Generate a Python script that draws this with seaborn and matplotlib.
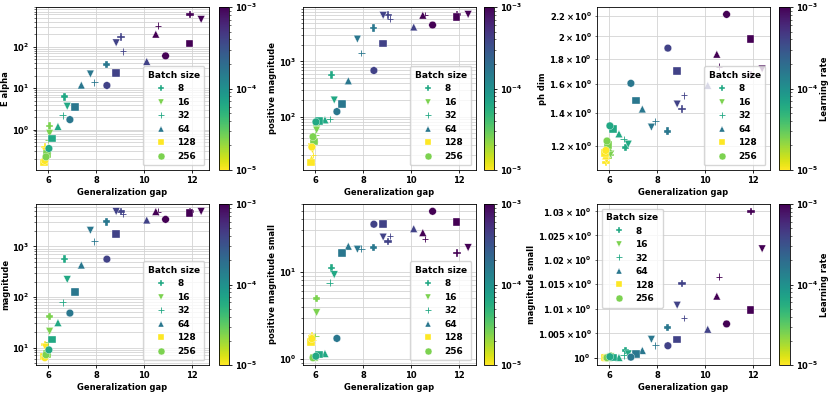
import matplotlib
matplotlib.use("Agg")
import matplotlib.pyplot as plt
from matplotlib.colors import LogNorm
from matplotlib.lines import Line2D
import pandas as pd
import seaborn as sns

batch_sizes = [8, 16, 32, 64, 128, 256]
learning_rates = [1e-5, 2.5e-5, 6.3e-5, 1.6e-4, 4e-4, 1e-3]
batch_markers = ["P", "v", "+", "^", "s", "o"]
# colour of the legend marker for each batch size (as a learning rate)
legend_lr = [6.3e-5, 2.5e-5, 6.3e-5, 1.6e-4, 1e-5, 2.5e-5]

# rows = batch size, columns = learning rate
gen_gap = [
    [5.86, 6.04, 6.68, 8.43, 9.04, 11.93],
    [5.88, 6.05, 6.79, 7.76, 8.84, 12.40],
    [5.90, 6.00, 6.60, 7.93, 9.13, 10.59],
    [5.84, 5.97, 6.40, 7.38, 10.12, 10.50],
    [5.81, 5.95, 6.16, 7.11, 8.83, 11.91],
    [5.85, 5.90, 6.02, 6.90, 8.45, 10.91],
]
e_alpha = [
    [0.38, 1.23, 6.2, 37, 172, 600],
    [0.30, 0.81, 3.65, 22, 124, 453],
    [0.24, 0.56, 2.2, 13.7, 77, 323],
    [0.20, 0.33, 1.19, 11.8, 44, 200],
    [0.16, 0.26, 0.61, 3.5, 23, 118],
    [0.18, 0.22, 0.35, 1.74, 11.6, 60],
]
pos_magnitude = [
    [32, 72, 565, 4040, 6950, 7050],
    [25, 57, 200, 2550, 6860, 7140],
    [20, 46, 91, 1420, 5970, 7000],
    [17, 40, 87, 445, 4210, 6900],
    [14.6, 35, 82, 170, 2120, 6400],
    [28, 43, 80, 123, 685, 4580],
]
ph_dim = [
    [1.11, 1.15, 1.191, 1.285, 1.427, 1.671],
    [1.125, 1.155, 1.210, 1.310, 1.459, 1.719],
    [1.135, 1.17, 1.240, 1.345, 1.519, 1.738],
    [1.145, 1.19, 1.269, 1.425, 1.592, 1.841],
    [1.16, 1.205, 1.297, 1.484, 1.703, 1.975],
    [1.175, 1.228, 1.318, 1.607, 1.894, 2.217],
]
magnitude = [
    [11.5, 41, 570, 3080, 4950, 4950],
    [10, 21, 222, 2080, 4900, 4930],
    [9, 12.6, 78, 1260, 4440, 4900],
    [7.5, 8.5, 31, 427, 3320, 4900],
    [6.6, 7.5, 14.5, 125, 1750, 4580],
    [6.3, 7.2, 9, 48, 560, 3430],
]
pos_magnitude_small = [
    [1.85, 4.95, 11.1, 19, 22.4, 16.5],
    [1.75, 3.42, 9.3, 18.2, 25.1, 19],
    [1.68, 1.85, 7.55, 18.5, 25.8, 24],
    [1.62, 1.05, 1.16, 19.7, 31.3, 28.2],
    [1.58, 1.04, 1.13, 16.6, 35.2, 37.4],
    [1.72, 1.04, 1.08, 1.73, 35.2, 49.5],
]
magnitude_small = [
    [1.0001, 1.0004, 1.00156, 1.00618, 1.01514, 1.0300],
    [1.0001, 1.0003, 1.00088, 1.0038, 1.01072, 1.02226],
    [1.0001, 1.0002, 1.00054, 1.00258, 1.00815, 1.01656],
    [1.0001, 1.0001, 1.00014, 1.00156, 1.00584, 1.01256],
    [1.0001, 1.0001, 1.00014, 1.00088, 1.00373, 1.00977],
    [1.0001, 1.0001, 1.0003, 1.0002, 1.00251, 1.00692],
]

metric_names = ["E alpha", "positive magnitude", "ph dim",
                "magnitude", "positive magnitude small", "magnitude small"]
metric_values = [e_alpha, pos_magnitude, ph_dim,
                 magnitude, pos_magnitude_small, magnitude_small]

rows = []
for i, bs in enumerate(batch_sizes):
    for j, lr in enumerate(learning_rates):
        row = {"Generalization gap": gen_gap[i][j], "bs": bs, "lr": lr}
        for name, vals in zip(metric_names, metric_values):
            row[name] = vals[i][j]
        rows.append(row)
df = pd.DataFrame(rows)

plt.rcParams["font.size"] = 6
plt.rcParams["font.weight"] = "bold"
plt.rcParams["axes.labelweight"] = "bold"
plt.rcParams["axes.labelpad"] = 2
plt.rcParams["axes.linewidth"] = 0.6
for a in ["xtick", "ytick"]:
    plt.rcParams[a + ".major.width"] = 0.6
    plt.rcParams[a + ".minor.width"] = 0.4
    plt.rcParams[a + ".major.size"] = 2.5
    plt.rcParams[a + ".minor.size"] = 1.5
    plt.rcParams[a + ".major.pad"] = 2
    plt.rcParams[a + ".minor.pad"] = 2

norm = LogNorm(1e-5, 1e-3)
cmap = plt.get_cmap("viridis_r")

W, H = 830, 393
fig = plt.figure(figsize=(W / 100, H / 100), dpi=100)
col_x = [36, 303, 597]
col_w = [173, 173, 173]
cb_x = [219, 484, 779]
cb_w = [10, 10, 11]
row_top = [7, 204]
row_h = [163, 161]
legend_loc = ["lower right"] * 5 + ["upper left"]

for k, name in enumerate(metric_names):
    r, c = divmod(k, 3)
    rect = [col_x[c] / W, 1 - (row_top[r] + row_h[r]) / H, col_w[c] / W, row_h[r] / H]
    ax = fig.add_axes(rect)
    for i, bs in enumerate(batch_sizes):
        sub = df[df["bs"] == bs]
        plus = batch_markers[i] == "+"
        sns.scatterplot(data=sub, x="Generalization gap", y=name, hue="lr",
                        hue_norm=norm, palette="viridis_r", marker=batch_markers[i],
                        s=22 if plus else 30, linewidth=0.6 if plus else 0.25,
                        legend=False, ax=ax, zorder=3)
    ax.set_yscale("log")
    ax.grid(True, which="both", color="#d3d3d3", linewidth=0.6)
    ax.set_axisbelow(True)
    ax.set_xlabel("Generalization gap")
    ax.set_ylabel(name, labelpad=1.5)

    handles = []
    for m, lr, bs in zip(batch_markers, legend_lr, batch_sizes):
        col = cmap(norm(lr))
        plus = m == "+"
        handles.append(Line2D([], [], linestyle="", marker=m,
                              markersize=4.5 if plus else 5, color=col,
                              markeredgecolor=col if plus else "white",
                              markeredgewidth=0.6 if plus else 0.25, label=str(bs)))
    ax.legend(handles=handles, title="Batch size", loc=legend_loc[k],
              fontsize=6.5, labelspacing=0.5, borderpad=0.5,
              title_fontproperties={"weight": "bold", "size": 6.5})

    cax = fig.add_axes([cb_x[c] / W, rect[1], cb_w[c] / W, rect[3]])
    sm = plt.cm.ScalarMappable(norm=norm, cmap=cmap)
    cb = fig.colorbar(sm, cax=cax)
    cb.outline.set_linewidth(0.6)
    if c == 2:
        cb.set_label("Learning rate", labelpad=1)

fig.savefig("out.png", dpi=100)
